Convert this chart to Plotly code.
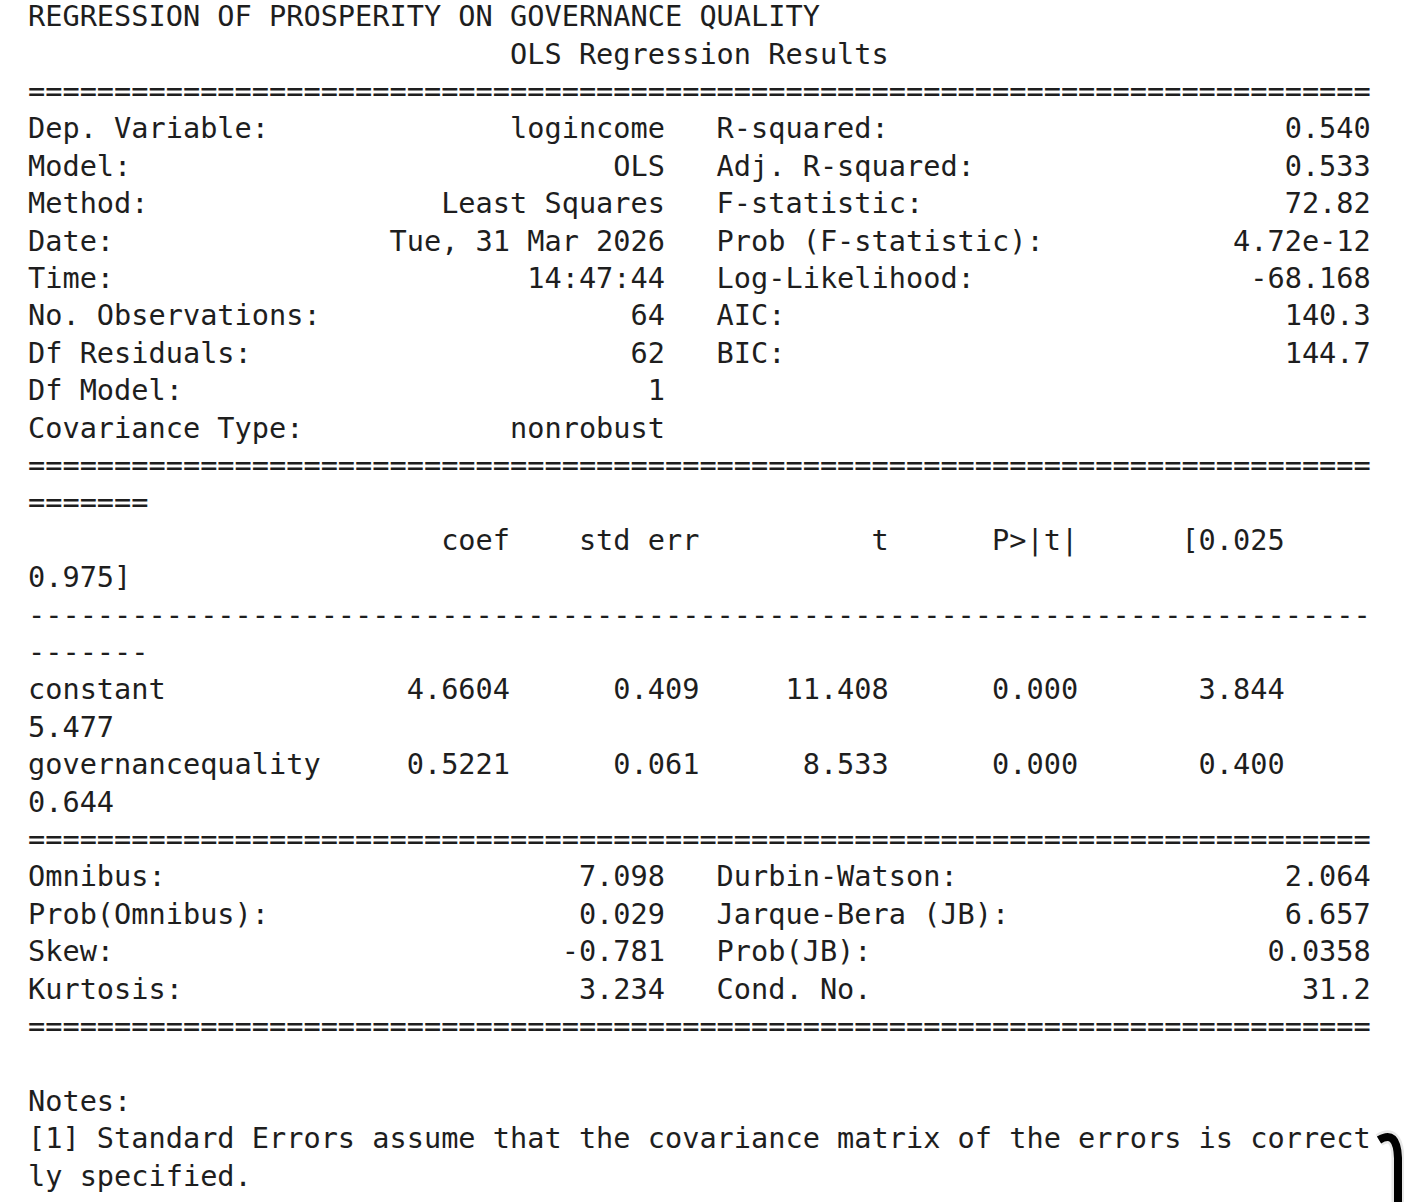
import plotly.graph_objects as go

W, H = 1404, 1202
WIDTH = 78

title = "REGRESSION OF PROSPERITY ON GOVERNANCE QUALITY"
subtitle = "OLS Regression Results"

top_left_labels = ["Dep. Variable:", "Model:", "Method:", "Date:", "Time:",
                   "No. Observations:", "Df Residuals:", "Df Model:", "Covariance Type:"]
top_left_values = ["logincome", "OLS", "Least Squares", "Tue, 31 Mar 2026", "14:47:44",
                   "64", "62", "1", "nonrobust"]
top_right_labels = ["R-squared:", "Adj. R-squared:", "F-statistic:", "Prob (F-statistic):",
                    "Log-Likelihood:", "AIC:", "BIC:", "", ""]
top_right_values = ["0.540", "0.533", "72.82", "4.72e-12", "-68.168", "140.3", "144.7", "", ""]

coef_header = ["coef", "std err", "t", "P>|t|", "[0.025", "0.975]"]
coef_names = ["constant", "governancequality"]
coef_values = [["4.6604", "0.409", "11.408", "0.000", "3.844", "5.477"],
               ["0.5221", "0.061", "8.533", "0.000", "0.400", "0.644"]]

diag_left_labels = ["Omnibus:", "Prob(Omnibus):", "Skew:", "Kurtosis:"]
diag_left_values = ["7.098", "0.029", "-0.781", "3.234"]
diag_right_labels = ["Durbin-Watson:", "Jarque-Bera (JB):", "Prob(JB):", "Cond. No."]
diag_right_values = ["2.064", "6.657", "0.0358", "31.2"]

notes = ["Notes:",
         "[1] Standard Errors assume that the covariance matrix of the errors is correctly specified."]

col_widths = [10, 11, 11, 11, 12, 12]
name_w = 18


def wrap(line):
    out = []
    while len(line) > WIDTH:
        out.append(line[:WIDTH].rstrip())
        line = line[WIDTH:].lstrip()
    out.append(line.rstrip())
    return out


def wrap_chars(line):
    out = []
    while len(line) > WIDTH:
        out.append(line[:WIDTH])
        line = line[WIDTH:]
    out.append(line)
    return out


def two_col(ll, lv, rl, rv):
    left = ll + lv.rjust(37 - len(ll))
    right = rl + rv.rjust(38 - len(rl)) if (rl or rv) else ""
    return left + "   " + right


lines = [title, " " * 28 + subtitle, "=" * WIDTH]
for a, b, c, d in zip(top_left_labels, top_left_values, top_right_labels, top_right_values):
    lines.append(two_col(a, b, c, d))
tw = name_w + sum(col_widths)
lines += wrap("=" * tw)
lines += wrap(" " * name_w + "".join(h.rjust(w) for h, w in zip(coef_header, col_widths)))
lines += wrap("-" * tw)
for n, vals in zip(coef_names, coef_values):
    lines += wrap(n.ljust(name_w) + "".join(v.rjust(w) for v, w in zip(vals, col_widths)))
lines.append("=" * WIDTH)
for a, b, c, d in zip(diag_left_labels, diag_left_values, diag_right_labels, diag_right_values):
    lines.append(two_col(a, b, c, d))
lines.append("=" * WIDTH)
lines.append("")
lines.append(notes[0])
lines += wrap_chars(notes[1])

FS = 28.6
X0 = 28
Y0 = 19
DY = 37.4

xs, ys, ts = [], [], []
for i, ln in enumerate(lines):
    if not ln.strip():
        continue
    xs.append(X0)
    ys.append(Y0 + DY * i)
    ts.append(ln.replace(" ", "\u00a0"))

fig = go.Figure(go.Scatter(
    x=xs, y=ys, text=ts, mode="text", textposition="middle right",
    textfont=dict(family="DejaVu Sans Mono", size=FS, color="#1e1e1e"),
    cliponaxis=False, hoverinfo="skip",
))

# cursor-like artifact at the bottom-right edge of the screenshot
cursor_path = "M 1379 1140 Q 1397 1129 1398 1158 L 1398 1210"
fig.add_shape(type="path", xref="x", yref="y", path=cursor_path,
              line=dict(color="#e8e8e8", width=13), layer="below")
fig.add_shape(type="path", xref="x", yref="y", path=cursor_path,
              line=dict(color="black", width=8))

fig.update_layout(
    width=W, height=H,
    margin=dict(l=0, r=0, t=0, b=0),
    paper_bgcolor="white", plot_bgcolor="white",
    xaxis=dict(visible=False, range=[0, W]),
    yaxis=dict(visible=False, range=[H, 0]),
    showlegend=False,
)
fig.write_html("out.html", config={"displayModeBar": False},
               post_script="document.body.style.margin='0';document.body.style.overflow='hidden';")
